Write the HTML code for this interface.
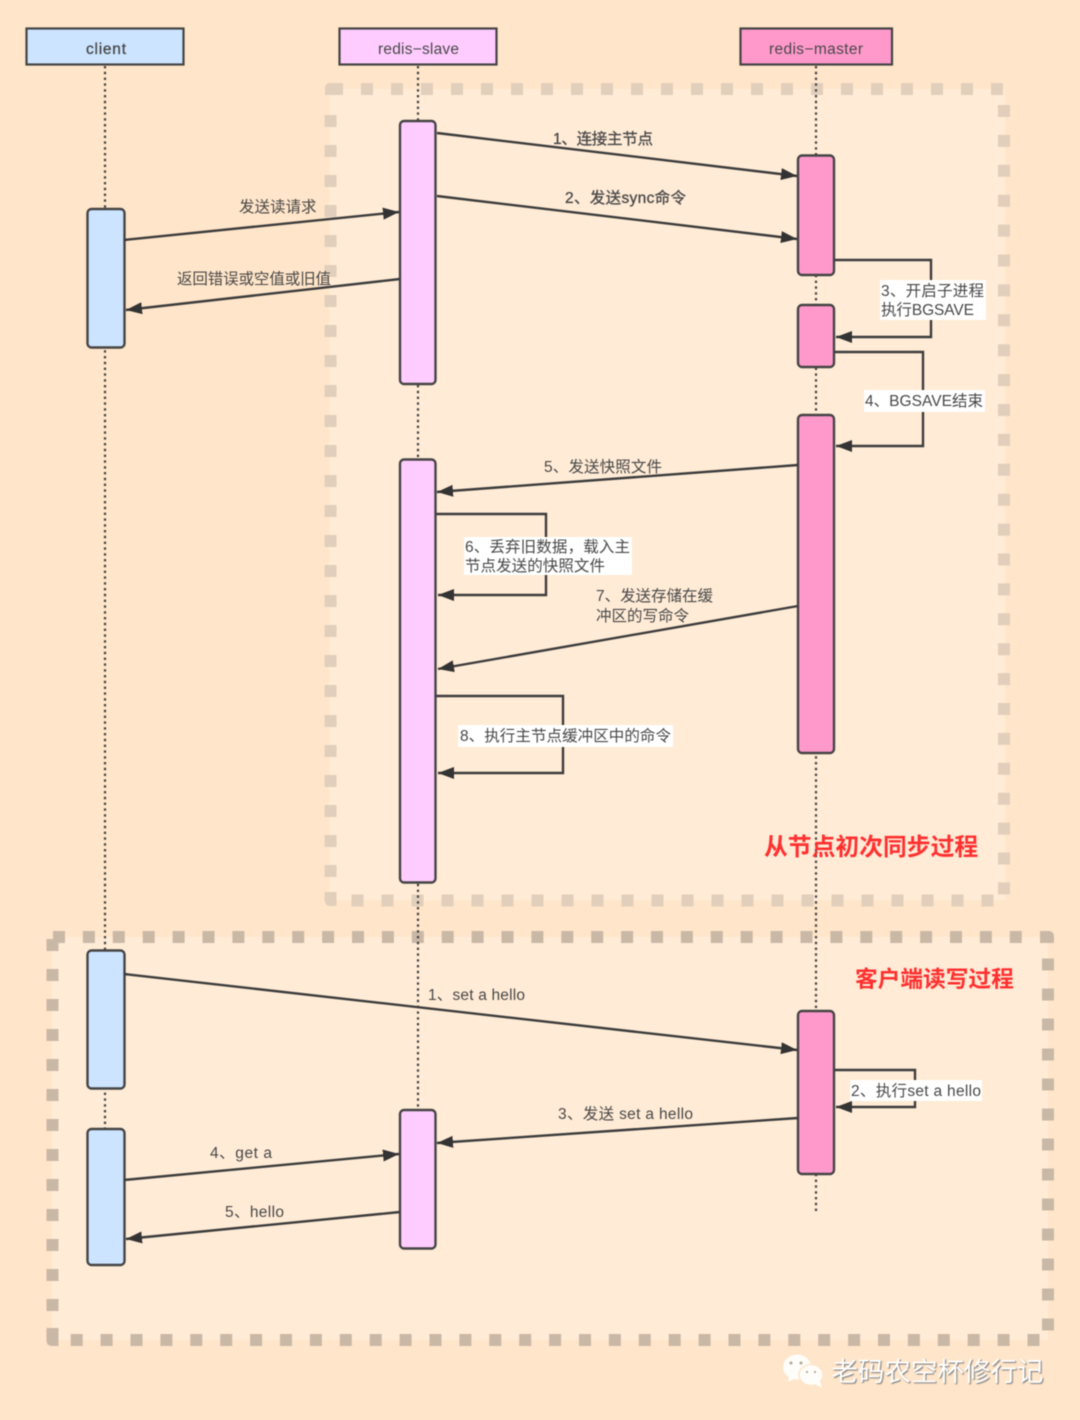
<!DOCTYPE html>
<html>
<head>
<meta charset="utf-8">
<style>
html,body{margin:0;padding:0;background:#FFE5C9;}
svg{display:block;filter:blur(0.4px);}
text{font-family:"Liberation Sans","Noto Sans CJK SC",sans-serif;font-size:15.5px;fill:#484848;}
.b{stroke:#484848;stroke-width:0.3px;}
</style>
</head>
<body>
<svg width="1080" height="1420" viewBox="0 0 1080 1420" xmlns="http://www.w3.org/2000/svg">
<defs>
<marker id="a" markerUnits="userSpaceOnUse" markerWidth="18" markerHeight="14" refX="16" refY="6.5" orient="auto">
<path d="M0 0.5L16 6.5L0 12.5Z" fill="#333"/>
</marker>
</defs>
<rect width="1080" height="1420" fill="#FFE5C9"/>

<!-- frame 1 -->
<rect x="329" y="89" width="676" height="811.500" fill="#FFEBD6"/>
<g fill="none" stroke="#E2CFBB" stroke-width="12">
<path d="M361 89H1003" stroke-dasharray="12 18"/>
<path d="M1004 105V895" stroke-dasharray="12 17.9"/>
<path d="M330.500 115V878" stroke-dasharray="12 18"/>
<path d="M351.500 900.500H994" stroke-dasharray="12 18"/>
</g>
<g fill="#E2CFBB">
<path d="M330 83H343V95H337V101H325V88Q325 83 330 83Z" opacity="0"/>
<path d="M330 83H343V95H325V88Q325 83 330 83Z"/>
<path d="M324.500 892H336.500V906H331Q324.500 906 324.500 899Z"/>
</g>
<!-- frame 2 -->
<rect x="52" y="937" width="996" height="403" fill="#FFEBD6"/>
<g fill="none" stroke="#CAB8A6" stroke-width="12">
<path d="M53 937H1032" stroke-dasharray="12 17.9"/>
<path d="M52.500 939V1320" stroke-dasharray="12 18"/>
<path d="M1048 958.500V1335" stroke-dasharray="12 18"/>
<path d="M70.700 1340H1041" stroke-dasharray="12 17.9"/>
</g>
<g fill="#CAB8A6">
<path d="M1040 931H1048Q1054 931 1054 937V943H1040Z"/>
<path d="M46.500 1328H58.500V1346H52Q46.500 1346 46.500 1340Z"/>
</g>

<!-- lifelines -->
<g fill="none" stroke="#444" stroke-width="2.200" stroke-dasharray="2.400 3.400">
<path d="M105 66V1128"/>
<path d="M418 66V1110"/>
<path d="M816 66V1213"/>
</g>

<!-- headers -->
<g stroke="#444" stroke-width="2.200">
<rect x="26.500" y="28.500" width="157" height="36" fill="#CCE4FF"/>
<rect x="339.500" y="28.500" width="157" height="36" fill="#FFCCFF"/>
<rect x="740.500" y="28.500" width="151.500" height="36" fill="#FF99CC"/>
</g>
<text class="b" x="86" y="54" textLength="40" lengthAdjust="spacing">client</text>
<text x="378" y="54" textLength="81" lengthAdjust="spacing">redis−slave</text>
<text x="769" y="54" textLength="94" lengthAdjust="spacing">redis−master</text>

<!-- activations -->
<g stroke="#444" stroke-width="2.400">
<rect x="87.500" y="209" width="37" height="138.500" rx="4" fill="#CCE4FF"/>
<rect x="87.500" y="950.500" width="37" height="138" rx="4" fill="#CCE4FF"/>
<rect x="87.500" y="1129" width="37" height="136" rx="4" fill="#CCE4FF"/>
<rect x="400" y="121" width="35.500" height="263" rx="4" fill="#FFCCFF"/>
<rect x="400" y="459.500" width="35.500" height="423" rx="4" fill="#FFCCFF"/>
<rect x="400" y="1110" width="35.500" height="138.500" rx="4" fill="#FFCCFF"/>
<rect x="798" y="155.500" width="36" height="119.500" rx="4" fill="#FF99CC"/>
<rect x="798" y="305" width="36" height="62" rx="4" fill="#FF99CC"/>
<rect x="798" y="415" width="36" height="338" rx="4" fill="#FF99CC"/>
<rect x="798" y="1011" width="36" height="163" rx="4" fill="#FF99CC"/>
</g>

<!-- connectors -->
<g fill="none" stroke="#3c3c3c" stroke-width="2.400" marker-end="url(#a)">
<path d="M437 133L797 176"/>
<path d="M437 196L797 239"/>
<path d="M124 240L399 212"/>
<path d="M400 279L126 310"/>
<path d="M835 260H931V337H836"/>
<path d="M835 352H923V446H836"/>
<path d="M798 465L437 492"/>
<path d="M436 514H546V595H438"/>
<path d="M798 606L438 669"/>
<path d="M436 696H563V773H438"/>
<path d="M124 974L797 1050"/>
<path d="M835 1070H915V1107H836"/>
<path d="M798 1118L437 1143"/>
<path d="M124 1180L399 1154"/>
<path d="M400 1212L126 1239"/>
</g>

<!-- label backgrounds -->
<g fill="#fff">
<rect x="880" y="280" width="106" height="40"/>
<rect x="864" y="390" width="121" height="22"/>
<rect x="464" y="537" width="168" height="38"/>
<rect x="458" y="725" width="215" height="22"/>
<rect x="850" y="1080" width="132" height="21"/>
</g>

<!-- labels -->
<text class="b" x="553" y="144" textLength="100" lengthAdjust="spacing">1、连接主节点</text>
<text class="b" x="565" y="203" textLength="121" lengthAdjust="spacing">2、发送sync命令</text>
<text x="239" y="212">发送读请求</text>
<text x="177" y="284" textLength="154" lengthAdjust="spacing">返回错误或空值或旧值</text>
<text x="881" y="296" textLength="103" lengthAdjust="spacing">3、开启子进程</text>
<text x="881" y="315" textLength="93" lengthAdjust="spacing">执行BGSAVE</text>
<text x="865" y="406" textLength="118" lengthAdjust="spacing">4、BGSAVE结束</text>
<text x="544" y="472" textLength="118" lengthAdjust="spacing">5、发送快照文件</text>
<text x="465" y="552" textLength="165" lengthAdjust="spacing">6、丢弃旧数据，载入主</text>
<text x="465" y="571" textLength="140" lengthAdjust="spacing">节点发送的快照文件</text>
<text x="596" y="601" textLength="117" lengthAdjust="spacing">7、发送存储在缓</text>
<text x="596" y="621" textLength="93" lengthAdjust="spacing">冲区的写命令</text>
<text x="460" y="741" textLength="211" lengthAdjust="spacing">8、执行主节点缓冲区中的命令</text>
<text x="428" y="1000" textLength="97" lengthAdjust="spacing">1、set a hello</text>
<text x="851" y="1096" textLength="130" lengthAdjust="spacing">2、执行set a hello</text>
<text x="558" y="1119" textLength="135" lengthAdjust="spacing">3、发送 set a hello</text>
<text x="210" y="1158" textLength="62" lengthAdjust="spacing">4、get a</text>
<text x="225" y="1217" textLength="59" lengthAdjust="spacing">5、hello</text>

<text x="764" y="855" style="font-size:23.800px;fill:#FF3030;font-weight:700">从节点初次同步过程</text>
<text x="855" y="987" style="font-size:22.700px;fill:#FF3030;font-weight:700">客户端读写过程</text>

<!-- watermark -->
<g fill="#FFFDF9">
<ellipse cx="797" cy="1367" rx="14" ry="12.500"/>
<path d="M789 1377L788 1382L796 1378Z"/>
<ellipse cx="811" cy="1375" rx="12" ry="10.500" stroke="#FFE5C9" stroke-width="1.500"/>
<path d="M815 1384L822 1388L820 1381Z"/>
</g>
<g fill="#B5A595">
<circle cx="791" cy="1363" r="1.500"/><circle cx="801" cy="1363" r="1.500"/>
<circle cx="807" cy="1372" r="1.100"/><circle cx="815" cy="1372" r="1.100"/>
</g>
<text x="831.500" y="1381" style="font-size:26.500px;fill:#FFFFFF;filter:drop-shadow(1px 1px 0.6px #777)">老码农空杯修行记</text>
</svg>
</body>
</html>
